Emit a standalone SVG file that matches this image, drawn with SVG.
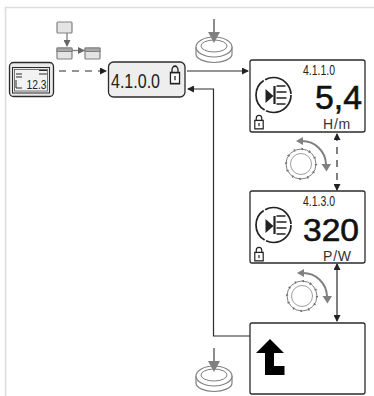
<svg xmlns="http://www.w3.org/2000/svg" width="374" height="396" viewBox="0 0 374 396">
<style>
.frame{fill:none;stroke:#dcdcdc;stroke-width:1.5}
.box{fill:#fff;stroke:#2b2b2b;stroke-width:1.3}
.line{fill:none;stroke:#2b2b2b;stroke-width:1.2}
.dash{stroke-dasharray:7 6}
.gray{fill:none;stroke:#808080;stroke-width:1.3}
.gfill{fill:#e4e4e4;stroke:#808080;stroke-width:1.2}
.thin{fill:none;stroke:#2b2b2b;stroke-width:1}
.t{font-family:"Liberation Sans",Arial,sans-serif;fill:#222}
.code{font-size:14px}
.big{fill:#111;stroke:#111;stroke-width:.6}
.unit{font-size:14px;fill:#333;letter-spacing:.8px}
</style>
<defs>
<marker id="a" markerWidth="7" markerHeight="7" refX="6" refY="3.500" orient="auto-start-reverse" markerUnits="userSpaceOnUse"><path d="M0 0L7 3.500L0 7Z" fill="#222"/></marker>
<marker id="g" markerWidth="7" markerHeight="7" refX="6" refY="3.500" orient="auto" markerUnits="userSpaceOnUse"><path d="M0 0L7 3.500L0 7Z" fill="#666"/></marker>
<g id="btn"><path d="M-18 -4V3C-18 8 -9 11.500 0 11.500S18 8 18 3V-4" fill="#fff" stroke="#808080" stroke-width="1.200"/><ellipse rx="18" ry="10" cy="-4" fill="#fff" stroke="#808080" stroke-width="1.200"/><ellipse rx="13" ry="6" cy="-5" fill="#fff" stroke="#808080"/></g>
<g id="knob"><circle r="15" fill="#fff" stroke="#808080" stroke-width="1"/><circle r="15" fill="none" stroke="#707070" stroke-width="2.200" stroke-dasharray="1.500 6.350"/><circle r="10.500" fill="#fff" stroke="#a0a0a0" stroke-width="1"/><path d="M1 -23A24 24 0 0 1 25 0" fill="none" stroke="#808080" stroke-width="2"/><path d="M-5 -23L2 -27V-19Z" fill="#808080"/><path d="M20.500 0H30L25.500 7.500Z" fill="#808080"/></g>
<g id="pic"><circle r="17.500" fill="none" stroke="#222" stroke-width="1.700" stroke-dasharray="35 1.600"/><path d="M-8 -6L0 1L-8 8Z" fill="#222"/><path d="M1 -9V9" stroke="#222" stroke-width="2.200"/><path d="M3 -9H12M3 -3H13M3 3H13M3 9H12" stroke="#222" stroke-width="1.300" fill="none"/></g>
<g id="lock"><rect x="-3.500" y="-2" width="7" height="6.500" fill="#fff" stroke="#222" stroke-width="1"/><path d="M-2.300 -2V-3.500A2.300 2.300 0 0 1 2.300 -3.500V-2" fill="none" stroke="#222"/><path d="M0 0V2.500" stroke="#222"/></g>
</defs>
<path class="frame" d="M5.500 396V7.500H374"/>
<g id="connectors">
<path class="line dash" d="M59 71H106" marker-end="url(#a)"/>
<path class="line" d="M187 71H248" marker-end="url(#a)"/>
<path class="line" d="M250 336H213.500V89H188" marker-end="url(#a)"/>
<path class="line dash" d="M337 134V190" marker-start="url(#a)" marker-end="url(#a)"/>
<path class="line" d="M337 264V321" marker-start="url(#a)" marker-end="url(#a)"/>
</g>
<g id="menu-icon">
<rect class="gfill" x="57" y="22" width="15" height="11" rx="1"/>
<path class="gray" d="M67 33V46" marker-end="url(#g)"/>
<rect class="gfill" x="57" y="48" width="15" height="11" rx="1"/><rect x="57" y="48" width="15" height="3.500" fill="#a8a8a8" stroke="#808080"/>
<path class="gray" d="M72 50.500H84" marker-end="url(#g)"/>
<rect class="gfill" x="85" y="48" width="15" height="11" rx="1"/><rect x="85" y="48" width="15" height="3.500" fill="#a8a8a8" stroke="#808080"/>
</g>
<g id="device">
<rect x="9.500" y="62.500" width="44" height="34" rx="4" fill="#e9e9e9" stroke="#2b2b2b" stroke-width="1.300"/>
<rect class="thin" x="12.500" y="67.500" width="37" height="25.500"/>
<rect x="14.500" y="69.500" width="33" height="21.500" fill="#f2f2f2" stroke="#444" stroke-width=".7"/>
<path class="thin" d="M16 74H22M16 77H22M16 80V88H22M39 70.500H47M39 74H47"/>
<text class="t" x="26.500" y="88.500" font-size="13" textLength="20" lengthAdjust="spacingAndGlyphs">12.3</text>
</g>
<g id="menu-box">
<rect x="108.500" y="62" width="76.500" height="35" rx="5" fill="#eeeeee" stroke="#2b2b2b" stroke-width="1.300"/>
<text class="t" x="111" y="88" font-size="20" textLength="49" lengthAdjust="spacingAndGlyphs">4.1.0.0</text>
<use href="#lock" transform="translate(175 76) scale(1.300 1.700)"/>
</g>
<g id="press-top"><use href="#btn" transform="translate(214 51)"/><path d="M214 19V38" stroke="#808080" stroke-width="1.800"/><path d="M208 32H220L214 43Z" fill="#808080"/></g>
<g id="display-1">
<rect class="box" x="250" y="60" width="115" height="72" rx="2"/>
<text class="t code" x="303" y="74.500" textLength="32" lengthAdjust="spacingAndGlyphs">4.1.1.0</text>
<use href="#pic" transform="translate(273.500 95)"/>
<text class="t big" x="315" y="108.500" font-size="34" textLength="47" lengthAdjust="spacingAndGlyphs">5,4</text>
<text class="t unit" x="323" y="129">H/m</text>
<use href="#lock" transform="translate(259 123) scale(1.200 1.300)"/>
</g>
<g id="knob-1"><use href="#knob" transform="translate(301 164)"/></g>
<g id="display-2">
<rect class="box" x="250" y="191" width="115" height="72" rx="2"/>
<text class="t code" x="303" y="206" textLength="32" lengthAdjust="spacingAndGlyphs">4.1.3.0</text>
<use href="#pic" transform="translate(273.500 225)"/>
<text class="t big" x="303" y="240.500" font-size="32" textLength="56" lengthAdjust="spacingAndGlyphs">320</text>
<text class="t unit" x="323" y="260.500">P/W</text>
<use href="#lock" transform="translate(259 255) scale(1.200 1.300)"/>
</g>
<g id="knob-2"><use href="#knob" transform="translate(302 296)"/></g>
<g id="display-3">
<rect class="box" x="250" y="323" width="115" height="71" rx="2"/>
<path d="M256 353L270 339L284 353H274V366H284.500V375H265V353Z" fill="#000"/>
</g>
<g id="press-bottom"><use href="#btn" transform="translate(214 380)"/><path d="M214 348V368" stroke="#808080" stroke-width="1.800"/><path d="M208 361H220L214 372Z" fill="#808080"/></g>
</svg>
